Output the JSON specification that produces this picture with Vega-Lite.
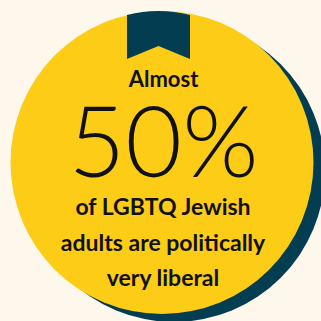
{
  "$schema": "https://vega.github.io/schema/vega-lite/v6.json",
  "width": 321,
  "height": 321,
  "padding": 0,
  "autosize": {"type": "fit", "contains": "padding"},
  "background": "#FEF7EC",
  "config": {"view": {"stroke": null}},
  "datasets": {
    "badge": [
      {"lead": "Almost", "figure": "50%", "caption": "of LGBTQ Jewish\nadults are politically\nvery liberal"}
    ]
  },
  "data": {"name": "badge"},
  "layer": [
    {
      "mark": {"type": "point", "filled": true, "opacity": 1, "color": "#E2E4E6", "shape": "M-0.093,-1 L0.093,-1 L0.093,1 L-0.093,1 Z", "size": 1849, "xOffset": -158.5, "yOffset": -90},
      "encoding": {}
    },
    {
      "mark": {"type": "point", "filled": true, "opacity": 1, "color": "#033D51", "shape": "circle", "size": 91204, "xOffset": 17.5, "yOffset": 11.5},
      "encoding": {}
    },
    {
      "mark": {"type": "point", "filled": true, "opacity": 1, "color": "#FCCC17", "shape": "circle", "size": 91809, "xOffset": 5.5, "yOffset": 3},
      "encoding": {}
    },
    {
      "mark": {"type": "point", "filled": true, "opacity": 1, "color": "#033D51", "shape": "M-1,-0.937 Q0,-1.19 1,-0.937 L1,0.46 L0,0.048 L-1,0.46 Z", "size": 3969, "xOffset": 2, "yOffset": -115},
      "encoding": {}
    },
    {
      "mark": {"type": "text", "font": "Lato", "fontWeight": "bold", "fontSize": 22, "color": "#111111", "align": "center", "baseline": "alphabetic", "xOffset": 7, "yOffset": -72.5},
      "encoding": {"text": {"field": "lead", "type": "nominal"}}
    },
    {
      "mark": {"type": "text", "font": "Lato", "fontWeight": 300, "fontSize": 98, "color": "#111111", "align": "center", "baseline": "alphabetic", "xOffset": 7, "yOffset": 17.5},
      "encoding": {"text": {"field": "figure", "type": "nominal"}}
    },
    {
      "mark": {"type": "text", "font": "Lato", "fontWeight": "bold", "fontSize": 23, "lineHeight": 35.5, "lineBreak": "\n", "color": "#111111", "align": "center", "baseline": "alphabetic", "xOffset": 6.5, "yOffset": 55.5},
      "encoding": {"text": {"field": "caption", "type": "nominal"}}
    }
  ]
}
